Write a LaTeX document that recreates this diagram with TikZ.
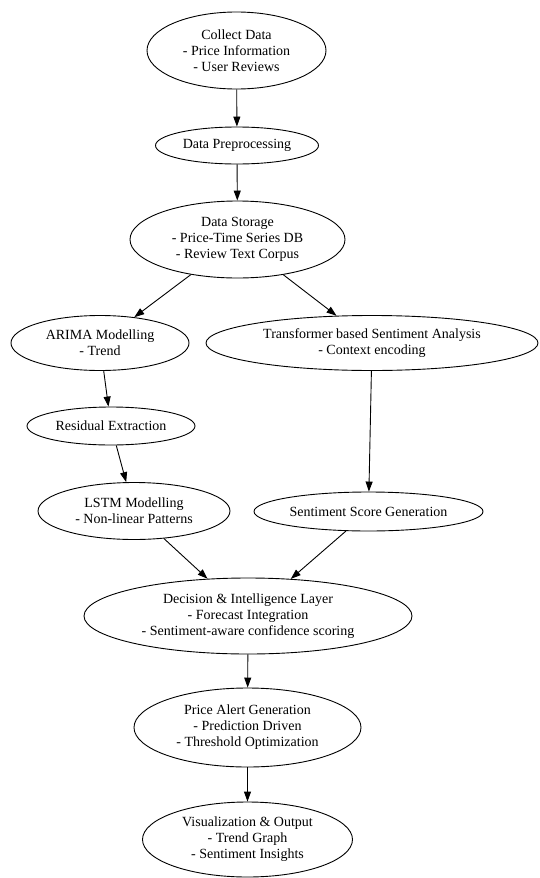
\documentclass[tikz,border=0pt]{standalone}
\usepackage{fontspec}
\setmainfont{Liberation Serif}
\usetikzlibrary{arrows.meta,shapes.geometric}
\tikzset{
  gnode/.style={ellipse, draw=black, line width=0.9pt, inner sep=0pt, align=center,
    font=\fontsize{14}{16}\selectfont, text=black},
  arr/.style={draw=black, line width=0.9pt, -{Triangle[length=10pt,width=7pt]}}
}
\newcommand{\gn}[6]{\node[gnode, minimum width=#4pt, minimum height=#5pt] (#1) at (#2,#3) {#6};}
\begin{document}
\begin{tikzpicture}[x=1pt,y=-1pt]
\useasboundingbox[fill=white] (0,0) rectangle (539,878);
\gn{collect}{236.5}{50.5}{179}{77}{Collect Data\\- Price Information\\- User Reviews}
\gn{preproc}{237}{145.5}{163}{37}{Data Preprocessing}
\gn{storage}{237.5}{239.5}{215}{77}{Data Storage\\- Price-Time Series DB\\- Review Text Corpus}
\gn{arima}{100}{343}{178}{55}{ARIMA Modelling\\- Trend}
\gn{transformer}{372}{343}{332}{55}{Transformer based Sentiment Analysis\\- Context encoding}
\gn{residual}{111}{426}{168}{38}{Residual Extraction}
\gn{lstm}{134}{511}{192}{57}{LSTM Modelling\\- Non-linear Patterns}
\gn{sentiment}{368.5}{511.5}{229}{39}{Sentiment Score Generation}
\gn{decision}{248}{616}{328}{76}{Decision \& Intelligence Layer\\- Forecast Integration\\- Sentiment-aware confidence scoring}
\gn{price}{247.5}{727.5}{227}{79}{Price Alert Generation\\- Prediction Driven\\- Threshold Optimization}
\gn{vis}{247.5}{839.5}{210}{75}{Visualization \& Output\\- Trend Graph\\- Sentiment Insights}
\draw[arr] (collect) -- (preproc);
\draw[arr] (preproc) -- (storage);
\draw[arr] (storage) -- (arima);
\draw[arr] (storage) -- (transformer);
\draw[arr] (arima) -- (residual);
\draw[arr] (residual) -- (lstm);
\draw[arr] (transformer) -- (sentiment);
\draw[arr] (lstm) -- (decision);
\draw[arr] (sentiment) -- (decision);
\draw[arr] (decision) -- (price);
\draw[arr] (price) -- (vis);
\end{tikzpicture}
\end{document}
